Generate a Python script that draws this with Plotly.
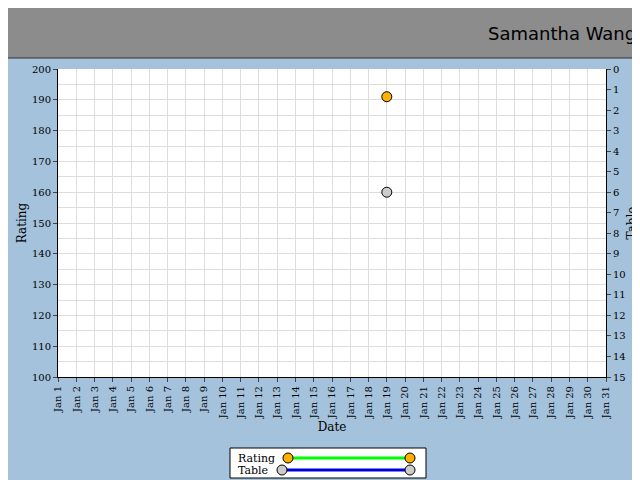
import plotly.graph_objects as go

dates = [f"Jan {d}" for d in range(1, 32)]
rating_dates = ["Jan 19"]
rating_vals = [191]
table_dates = ["Jan 19"]
table_vals = [6]

font = "DejaVu Serif"
fig = go.Figure()
fig.add_trace(go.Scatter(x=rating_dates, y=rating_vals, mode="markers", name="Rating",
                         marker=dict(size=10, color="#ffb000", line=dict(color="black", width=1))))
fig.add_trace(go.Scatter(x=table_dates, y=table_vals, mode="markers", name="Table", yaxis="y2",
                         marker=dict(size=10, color="#cccccc", line=dict(color="black", width=1))))

W, H = 640, 480
L, R, T, B = 50, 42, 61, 111
PW, PH = W - L - R, H - T - B
def px(x): return (x - L) / PW
def py(y): return (H - B - y) / PH

shapes = [
    dict(type="rect", xref="paper", yref="paper", x0=px(-2), x1=px(641), y0=py(50), y1=py(-2),
         fillcolor="#8c8c8c", line=dict(color="#333", width=1), layer="below"),
    dict(type="rect", xref="paper", yref="paper", x0=px(222), x1=px(418), y0=py(470), y1=py(440),
         fillcolor="white", line=dict(color="black", width=1)),
    dict(type="line", xref="paper", yref="paper", x0=px(280), x1=px(402), y0=py(450), y1=py(450),
         line=dict(color="#00ff00", width=3)),
    dict(type="line", xref="paper", yref="paper", x0=px(274), x1=px(402), y0=py(462), y1=py(462),
         line=dict(color="#0000dd", width=3)),
]
for cx, cy, col in [(280, 450, "#ffb000"), (402, 450, "#ffb000"), (274, 462, "#cccccc"), (402, 462, "#cccccc")]:
    shapes.append(dict(type="circle", xref="paper", yref="paper", x0=px(cx-5), x1=px(cx+5),
                       y0=py(cy+5), y1=py(cy-5), fillcolor=col, line=dict(color="black", width=1)))

fig.update_layout(
    width=W, height=H, paper_bgcolor="#a4c2dc", plot_bgcolor="white",
    margin=dict(l=L, r=R, t=T, b=B), showlegend=False,
    font=dict(family=font, size=10, color="black"),
    shapes=shapes,
    annotations=[
        dict(text="Samantha Wang", xref="paper", yref="paper", x=px(630), y=py(25), xanchor="right",
             yanchor="middle", showarrow=False, font=dict(family="DejaVu Sans", size=18, color="black")),
        dict(text="Rating", xref="paper", yref="paper", x=px(228), y=py(450), xanchor="left",
             yanchor="middle", showarrow=False, font=dict(size=11)),
        dict(text="Table", xref="paper", yref="paper", x=px(228), y=py(462), xanchor="left",
             yanchor="middle", showarrow=False, font=dict(size=11)),
    ],
    xaxis=dict(type="category", categoryorder="array", categoryarray=dates, range=[0, 30],
               tickvals=dates, tickangle=-90, showgrid=True, gridcolor="#dddddd",
               ticks="outside", ticklen=4, showline=True, linecolor="black",
               title=dict(text="Date", standoff=4)),
    yaxis=dict(range=[100, 200], dtick=10, showgrid=True, gridcolor="#dddddd",
               minor=dict(dtick=5, showgrid=True, gridcolor="#dddddd"),
               ticks="outside", ticklen=4, showline=True, linecolor="black",
               title=dict(text="Rating", standoff=2), zeroline=False),
    yaxis2=dict(overlaying="y", side="right", range=[15, 0], dtick=1, showgrid=False,
                ticks="outside", ticklen=4, showline=True, linecolor="black",
                title=dict(text="Table", standoff=2), zeroline=False),
)
fig.write_html("out.html")
